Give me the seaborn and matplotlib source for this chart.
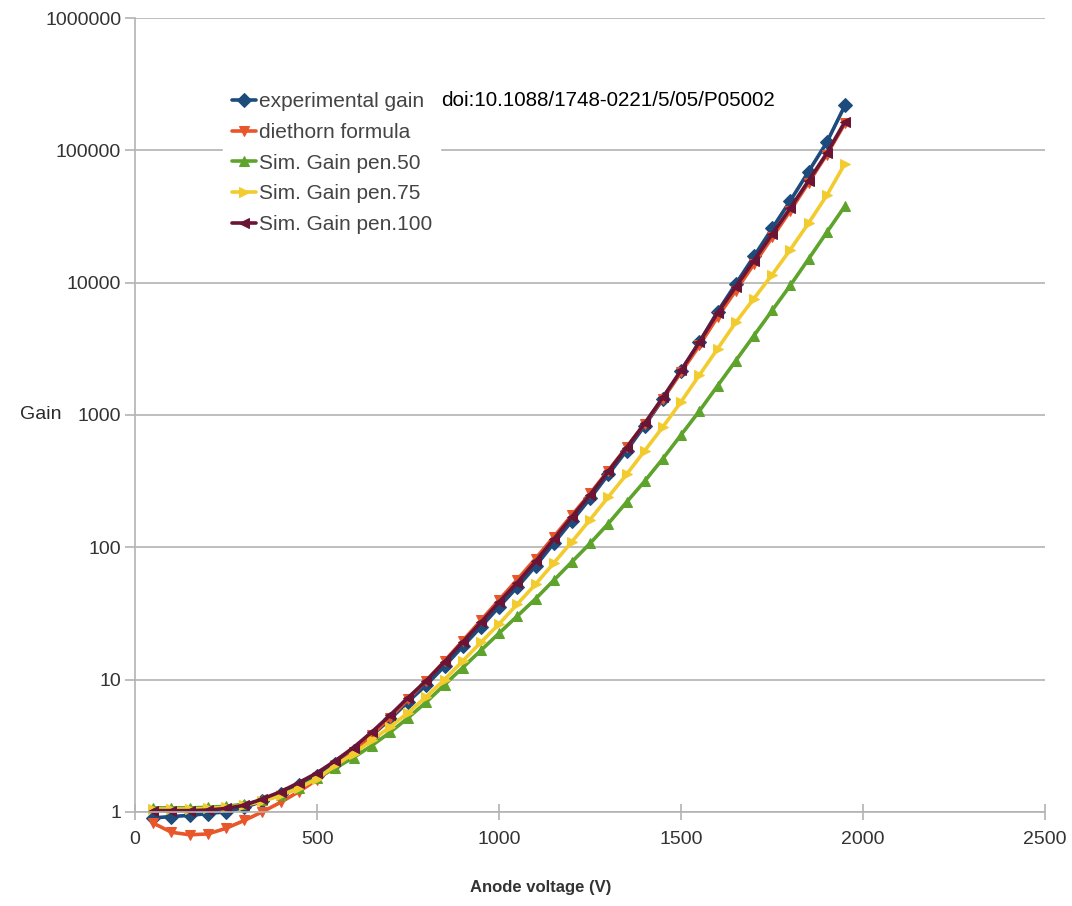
import matplotlib
matplotlib.use("Agg")
import matplotlib.pyplot as plt
import seaborn as sns
import pandas as pd

voltage = [50, 100, 150, 200, 250, 300, 350, 400, 450, 500, 550, 600, 650, 700, 750,
           800, 850, 900, 950, 1000, 1050, 1100, 1150, 1200, 1250, 1300, 1350, 1400,
           1450, 1500, 1550, 1600, 1650, 1700, 1750, 1800, 1850, 1900, 1950]

experimental_gain = [0.90, 0.92, 0.94, 0.97, 1.0, 1.08, 1.2, 1.36, 1.58, 1.86, 2.29, 2.88,
                     3.76, 5.0, 6.8, 9.1, 12.6, 17.8, 25, 35.5, 50, 72, 107, 158, 234, 355,
                     537, 832, 1320, 2140, 3550, 6030, 9770, 15800, 25700, 41700, 69200,
                     115000, 219000]

diethorn_formula = [0.82, 0.70, 0.67, 0.68, 0.75, 0.86, 1.0, 1.18, 1.42, 1.75, 2.2, 2.85,
                    3.8, 5.15, 7.1, 9.8, 13.8, 19.6, 28, 40, 57, 82, 120, 175, 255, 380,
                    570, 860, 1330, 2100, 3350, 5500, 8700, 13800, 22000, 35000, 57000,
                    93000, 160000]

sim_pen50 = [1.07, 1.07, 1.07, 1.08, 1.1, 1.14, 1.22, 1.33, 1.52, 1.8, 2.14, 2.57, 3.16,
             3.98, 5.13, 6.76, 9.12, 12.3, 16.6, 22.4, 30.2, 40.7, 56.2, 77.6, 107, 151,
             219, 316, 468, 708, 1070, 1660, 2570, 3980, 6170, 9550, 15100, 24000, 38000]

sim_pen75 = [1.05, 1.05, 1.05, 1.06, 1.08, 1.12, 1.2, 1.33, 1.51, 1.78, 2.24, 2.75, 3.47,
             4.37, 5.62, 7.41, 10.0, 13.8, 19.1, 26.3, 37.2, 52.5, 75.9, 110, 162, 240,
             355, 537, 813, 1260, 2000, 3160, 5010, 7590, 11500, 17800, 28200, 45700, 79400]

sim_pen100 = [1.02, 1.02, 1.02, 1.03, 1.06, 1.12, 1.25, 1.42, 1.66, 1.97, 2.43, 3.06, 4.0,
              5.35, 7.3, 9.8, 13.6, 19.2, 27, 38.5, 54, 78, 115, 170, 250, 375, 565, 865,
              1360, 2180, 3550, 5900, 9300, 14700, 23300, 36700, 59000, 95000, 165000]

series_names = ["experimental gain", "diethorn formula", "Sim. Gain pen.50",
                "Sim. Gain pen.75", "Sim. Gain pen.100"]
series_values = [experimental_gain, diethorn_formula, sim_pen50, sim_pen75, sim_pen100]
series_colors = ["#1c4b7c", "#e8562a", "#5ea32c", "#f2cc2e", "#6a1535"]
series_markers = ["D", "v", "^", ">", "<"]

x_ticks = [0, 500, 1000, 1500, 2000, 2500]
y_ticks = [1, 10, 100, 1000, 10000, 100000, 1000000]
y_tick_labels = ["1", "10", "100", "1000", "10000", "100000", "1000000"]

sns.set_theme(style="white")
plt.rcParams["font.family"] = ["Liberation Sans", "DejaVu Sans"]

fig = plt.figure(figsize=(10.72, 9.06), dpi=100)
ax = fig.add_axes([0.126, 0.104, 0.849, 0.876])

for name, vals, col, mk in zip(series_names, series_values, series_colors, series_markers):
    df = pd.DataFrame({"V": voltage, "G": vals})
    sns.lineplot(data=df, x="V", y="G", ax=ax, color=col, marker=mk, markersize=7,
                 markeredgecolor=col, markerfacecolor=col, linewidth=2.6, label=name,
                 clip_on=False)

ax.set_yscale("log")
ax.set_ylim(1, 1000000)
ax.set_xlim(0, 2500)
ax.set_xticks(x_ticks)
ax.set_xticklabels([str(t) for t in x_ticks])
ax.set_yticks(y_ticks)
ax.set_yticklabels(y_tick_labels)
ax.minorticks_off()

ax.grid(axis="y", color="#b3b3b3", linewidth=1.2)
ax.grid(axis="x", visible=False)
ax.set_axisbelow(True)
for s in ["top", "right"]:
    ax.spines[s].set_visible(False)
for s in ["left", "bottom"]:
    ax.spines[s].set_color("#b3b3b3")
    ax.spines[s].set_linewidth(1.2)

ax.tick_params(axis="y", direction="out", length=7, width=1.2, color="#b3b3b3",
               labelsize=14, labelcolor="#333333", pad=3, left=True)
ax.tick_params(axis="x", direction="inout", length=12, width=1.2, color="#b3b3b3",
               labelsize=14, labelcolor="#333333", pad=8, bottom=True)

ax.set_xlabel("Anode voltage (V)", fontsize=12, fontweight="bold", color="#333333")
ax.xaxis.set_label_coords((541 - 135) / 910, -(880 - 812) / 794)
ax.set_ylabel("Gain", fontsize=14, color="#2a2a2a", rotation=0, va="center", ha="left")
ax.yaxis.set_label_coords((20 - 135) / 910, 0.5)

leg = ax.legend(loc="upper left", bbox_to_anchor=(0.097, 0.917), frameon=True,
                fontsize=15, handlelength=1.15, handletextpad=0.15, labelspacing=0.56,
                borderpad=0.4, borderaxespad=0)
leg.get_frame().set_facecolor("white")
leg.get_frame().set_edgecolor("white")
leg.get_frame().set_alpha(1)
for t in leg.get_texts():
    t.set_color("#444444")

fig.text(441 / 1072, 1 - 100 / 906, "doi:10.1088/1748-0221/5/05/P05002",
         fontsize=14.9, color="black", va="center", ha="left")

fig.savefig("out.png", dpi=100, facecolor="white")
